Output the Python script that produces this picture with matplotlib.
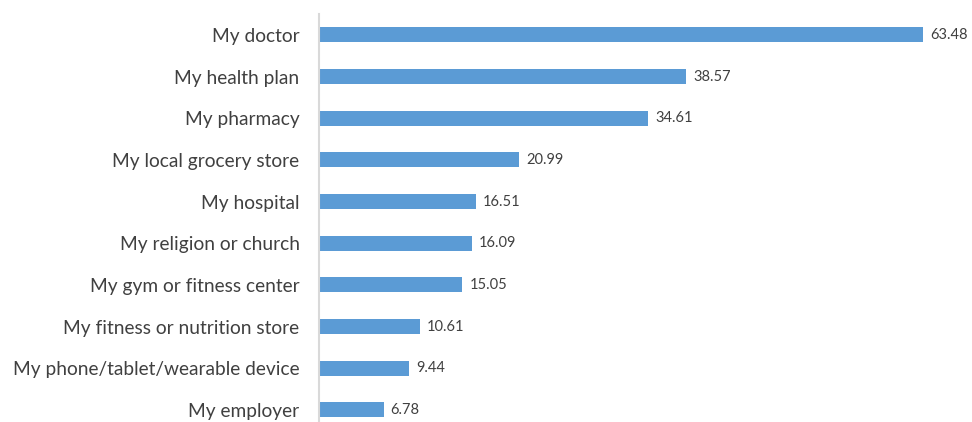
import matplotlib.pyplot as plt

plt.rcParams['font.family'] = ['Lato', 'DejaVu Sans']

categories = [
    "My doctor",
    "My health plan",
    "My pharmacy",
    "My local grocery store",
    "My hospital",
    "My religion or church",
    "My gym or fitness center",
    "My fitness or nutrition store",
    "My phone/tablet/wearable device",
    "My employer",
]
values = [63.48, 38.57, 34.61, 20.99, 16.51, 16.09, 15.05, 10.61, 9.44, 6.78]

fig = plt.figure(figsize=(9.72, 4.22), dpi=100)
ax = fig.add_axes([319 / 972, 0, 647 / 972, 408 / 422])

pos = range(len(categories))
ax.barh(pos, values, height=0.36, color='#5B9BD5')
for y, v in zip(pos, values):
    ax.text(v + 0.75, y, f"{v:.2f}", va='center', ha='left',
            fontsize=10.5, color='#404040')

ax.set_xlim(0, 68)
ax.set_ylim(9.29, -0.5)
ax.set_yticks(list(pos))
ax.set_yticklabels(categories, fontsize=13.8, color='#404040')
ax.tick_params(axis='y', length=0, pad=14)
ax.set_xticks([])
for s in ['top', 'right', 'bottom']:
    ax.spines[s].set_visible(False)
ax.spines['left'].set_color('#D9D9D9')
ax.spines['left'].set_linewidth(1.5)

plt.savefig("out.png", dpi=100)
